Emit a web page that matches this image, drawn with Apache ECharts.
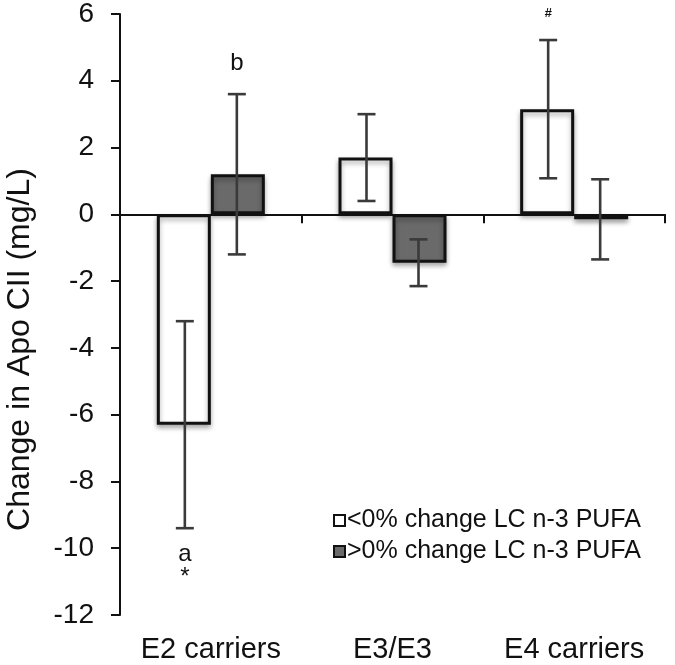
<!DOCTYPE html>
<html>
<head>
<meta charset="utf-8">
<script src="https://cdn.jsdelivr.net/npm/echarts@6/dist/echarts.min.js"></script>
<style>html,body{margin:0;padding:0;background:#fff}#c{width:675px;height:665px}</style>
</head>
<body>
<div id="c"></div>
<script>
var categories = ['E2 carriers', 'E3/E3', 'E4 carriers'];
var seriesNames = ['<0% change LC n-3 PUFA', '>0% change LC n-3 PUFA'];
var lowPufaMean = [-6.3, 1.7, 3.15];
var lowPufaErr = [3.1, 1.3, 2.07];
var highPufaMean = [1.2, -1.45, -0.15];
var highPufaErr = [2.4, 0.7, 1.2];
var lowPufaNotes = ['a\n*', '', '#'];
var highPufaNotes = ['b', '', ''];
var yTicks = [-12, -10, -8, -6, -4, -2, 0, 2, 4, 6];

var FONT = 'Liberation Sans, Arial, sans-serif';
var chart = echarts.init(document.getElementById('c'), null, {renderer: 'canvas'});

function errData(means, errs, notes) {
  return means.map(function (m, i) { return [i, m - errs[i], m + errs[i], m, notes[i]]; });
}

function errRender(seriesIdx) {
  return function (params, api) {
    var ci = api.value(0);
    var lo = api.coord([ci, api.value(1)]);
    var hi = api.coord([ci, api.value(2)]);
    var mean = api.value(3);
    var off = seriesIdx === 0 ? -26 : 26;
    var x = lo[0] + off;
    var cap = 9;
    var st = {stroke: '#3a3a3a', lineWidth: 2.6};
    var children = [
      {type: 'line', shape: {x1: x, y1: lo[1], x2: x, y2: hi[1]}, style: st},
      {type: 'line', shape: {x1: x - cap, y1: lo[1], x2: x + cap, y2: lo[1]}, style: st},
      {type: 'line', shape: {x1: x - cap, y1: hi[1], x2: x + cap, y2: hi[1]}, style: st}
    ];
    var note = api.value(4);
    if (note) {
      var isHash = note === '#';
      var ty = mean >= 0 ? hi[1] - (isHash ? 27 : 31) : lo[1] + 38;
      children.push({
        type: 'text',
        x: x, y: ty,
        style: {
          text: note, fill: '#111', align: 'center', verticalAlign: 'middle',
          font: (isHash ? 'italic bold 13px ' : '24px ') + FONT, lineHeight: 23
        }
      });
    }
    return {type: 'group', children: children};
  };
}

var shadow = {shadowColor: 'rgba(0,0,0,0.35)', shadowBlur: 5, shadowOffsetY: 3};

chart.setOption({
  animation: false,
  backgroundColor: '#fff',
  grid: {left: 120, right: 10, top: 14, bottom: 50, containLabel: false, outerBoundsMode: 'none'},
  legend: {
    orient: 'vertical', left: 328, top: 503, itemGap: 6,
    itemWidth: 11, itemHeight: 11,
    textStyle: {fontFamily: FONT, fontSize: 25, color: '#111', padding: [0, 0, 0, -3]},
    data: [
      {name: seriesNames[0], icon: 'rect', itemStyle: {color: '#fff', borderColor: '#111', borderWidth: 2}},
      {name: seriesNames[1], icon: 'rect', itemStyle: {color: '#6a6a6a', borderColor: '#111', borderWidth: 2}}
    ]
  },
  xAxis: {
    type: 'category', data: categories,
    axisLine: {lineStyle: {color: '#111', width: 2}},
    axisTick: {show: true, length: 9, lineStyle: {color: '#111', width: 2}},
    axisLabel: {fontFamily: FONT, fontSize: 29, color: '#111', margin: 20, interval: 0, hideOverlap: false}
  },
  yAxis: {
    type: 'value', min: -12, max: 6, interval: 2,
    name: 'Change in Apo CII (mg/L)', nameLocation: 'middle', nameGap: 84,
    nameTextStyle: {fontFamily: FONT, fontSize: 32, color: '#111', padding: [0, 70, 0, 0]},
    splitLine: {show: false},
    axisLine: {show: true, lineStyle: {color: '#111', width: 2}},
    axisTick: {show: true, length: 9, lineStyle: {color: '#111', width: 2}},
    axisLabel: {fontFamily: FONT, fontSize: 28, color: '#111', margin: 26,
      formatter: function (v) { return yTicks.indexOf(v) >= 0 ? String(v) : ''; }}
  },
  series: [
    {
      name: seriesNames[0], type: 'bar', data: lowPufaMean, barWidth: 54, barGap: '0%',
      itemStyle: Object.assign({color: '#fff', borderColor: '#111', borderWidth: 3}, shadow),
      markLine: {
        silent: true, symbol: 'none', label: {show: false},
        lineStyle: {color: '#111', width: 2, type: 'solid'},
        data: [{yAxis: 0}]
      }
    },
    {
      name: seriesNames[1], type: 'bar', data: highPufaMean, barWidth: 54, barGap: '0%',
      itemStyle: Object.assign({color: '#6a6a6a', borderColor: '#111', borderWidth: 3}, shadow)
    },
    {
      type: 'custom', renderItem: errRender(0), data: errData(lowPufaMean, lowPufaErr, lowPufaNotes),
      encode: {x: 0, y: [1, 2]}, z: 10, silent: true
    },
    {
      type: 'custom', renderItem: errRender(1), data: errData(highPufaMean, highPufaErr, highPufaNotes),
      encode: {x: 0, y: [1, 2]}, z: 10, silent: true
    }
  ]
});
</script>
</body>
</html>
